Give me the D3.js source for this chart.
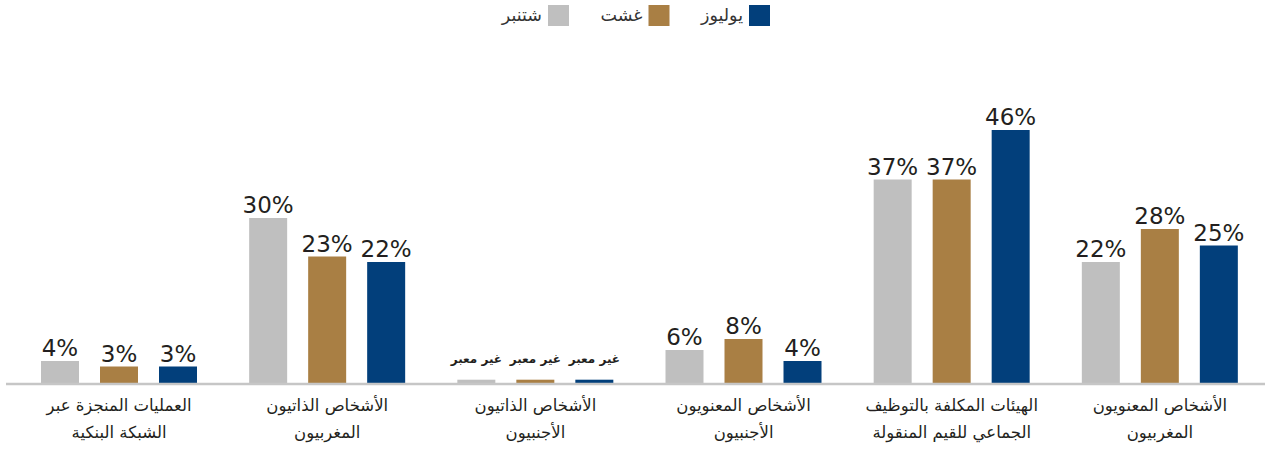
<!DOCTYPE html>
<html><head><meta charset="utf-8">
<script src="https://cdn.jsdelivr.net/npm/d3@7"></script>
<style>
html,body{margin:0;padding:0;background:#fff;}
svg{display:block;}
</style></head>
<body>
<svg id="chart" width="1268" height="456"></svg>
<script>
// ---- data ----
const categories = [
  ["العمليات المنجزة عبر", "الشبكة البنكية"],
  ["الأشخاص الذاتيون", "المغربيون"],
  ["الأشخاص الذاتيون", "الأجنبيون"],
  ["الأشخاص المعنويون", "الأجنبيون"],
  ["الهيئات المكلفة بالتوظيف", "الجماعي للقيم المنقولة"],
  ["الأشخاص المعنويون", "المغربيون"]
];
const seriesNames = ["شتنبر", "غشت", "يوليوز"];
const septValues = [4, 30, null, 6, 37, 22];
const augValues  = [3, 23, null, 8, 37, 28];
const julyValues = [3, 22, null, 4, 46, 25];
const notSignificantLabel = "غير معبر";
const notSignificantStub = 0.6;   // small stub drawn for non-significant values
const colors = ["#bfbfbf", "#a97f44", "#023f7b"];

const seriesValues = [septValues, augValues, julyValues];
const catKeys = categories.map((c, i) => "c" + i);

const svg = d3.select("#chart");
const baseY = 383;

const x0 = d3.scaleBand().domain(catKeys).range([15, 1264]).padding(0);
const x1 = d3.scaleBand().domain(seriesNames).range([26, 182]).paddingInner(0.356).paddingOuter(0);
const y = d3.scaleLinear().domain([0, 50]).range([baseY, baseY - 275]);

const data = [];
catKeys.forEach((k, ci) => {
  seriesNames.forEach((s, si) => {
    const v = seriesValues[si][ci];
    data.push({cat: k, ser: s, si, v, drawV: v == null ? notSignificantStub : v});
  });
});

const g = svg.append("g");
g.selectAll("rect.bar").data(data).enter().append("rect")
  .attr("class", "bar")
  .attr("x", d => x0(d.cat) + x1(d.ser))
  .attr("width", x1.bandwidth())
  .attr("y", d => y(d.drawV))
  .attr("height", d => y(0) - y(d.drawV))
  .attr("fill", d => colors[d.si]);

// axis baseline
const xAxis = d3.axisBottom(x0).tickSize(0).tickFormat("");
const ax = svg.append("g").attr("transform", `translate(0,${baseY + 1})`).call(xAxis);
ax.select(".domain").attr("d", "M6,0H1265").attr("stroke", "#c6c6c6").attr("stroke-width", 2.5);

// value labels
g.selectAll("text.val").data(data.filter(d => d.v != null)).enter().append("text")
  .attr("class", "val")
  .attr("x", d => x0(d.cat) + x1(d.ser) + x1.bandwidth() / 2)
  .attr("y", d => y(d.v) - 5)
  .attr("text-anchor", "middle")
  .attr("font-family", "DejaVu Sans, sans-serif")
  .attr("font-size", 23)
  .attr("fill", "#231f20")
  .text(d => d.v + "%");

g.selectAll("text.ns").data(data.filter(d => d.v == null)).enter().append("text")
  .attr("class", "ns")
  .attr("x", d => x0(d.cat) + x1(d.ser) + x1.bandwidth() / 2)
  .attr("y", d => y(d.drawV) - 17)
  .attr("text-anchor", "middle")
  .attr("direction", "rtl")
  .attr("font-family", "DejaVu Sans, sans-serif")
  .attr("font-weight", "bold")
  .attr("font-size", 12)
  .attr("fill", "#231f20")
  .text(notSignificantLabel);

// category labels
const catG = svg.append("g");
categories.forEach((lines, ci) => {
  const cx = x0(catKeys[ci]) + x0.bandwidth() / 2;
  const t = catG.append("text")
    .attr("x", cx)
    .attr("y", 411)
    .attr("text-anchor", "middle")
    .attr("direction", "rtl")
    .attr("font-family", "DejaVu Sans, sans-serif")
    .attr("font-size", 16.5)
    .attr("fill", "#231f20");
  lines.forEach((ln, li) => {
    t.append("tspan")
      .attr("x", cx)
      .attr("dy", li === 0 ? 0 : 27)
      .text(ln);
  });
});

// legend
const lx = d3.scalePoint().domain(seriesNames).range([548, 749]);
const leg = svg.append("g");
seriesNames.forEach((s, si) => {
  leg.append("rect")
    .attr("x", lx(s)).attr("y", 5)
    .attr("width", 21).attr("height", 21)
    .attr("fill", colors[si]);
  leg.append("text")
    .attr("x", lx(s) - 6).attr("y", 21)
    .attr("text-anchor", "end")
    .attr("font-family", "DejaVu Sans, sans-serif")
    .attr("font-size", 17.5)
    .attr("fill", "#333")
    .text(s);
});
</script>
</body></html>
